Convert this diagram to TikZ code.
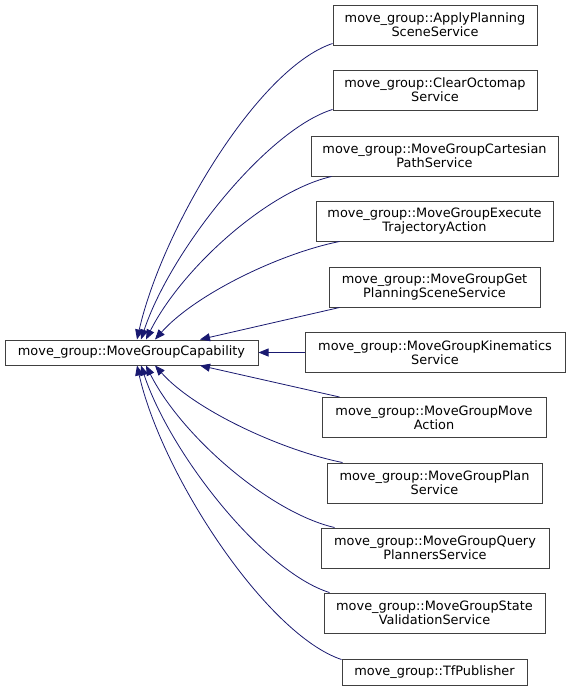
\documentclass[tikz,border=0pt]{standalone}
\usepackage{fontspec}
\setmainfont{DejaVu Sans}
\usepackage{xcolor}
\usetikzlibrary{arrows.meta,calc}
\definecolor{edgeblue}{RGB}{25,25,112}
\definecolor{boxgray}{RGB}{64,64,64}

\begin{document}
\begin{tikzpicture}[x=1pt,y=-1pt,
  cls/.style={draw=boxgray,fill=white,line width=1pt,align=center,inner sep=0pt,minimum height=40pt,font=\fontsize{12.9}{14}\selectfont},
  inh/.style={draw=edgeblue,line width=.8pt,-{Triangle[length=10pt,width=8pt]}}]
\useasboundingbox (0,0) rectangle (569,691);
% base class
\node[cls,minimum width=253pt,minimum height=25pt] (base) at (131.5,352.5) {move\_group::MoveGroupCapability};
% derived classes
\node[cls,minimum width=204pt] (apply) at (435,25) {move\_group::ApplyPlanning\\SceneService};
\node[cls,minimum width=204pt] (octo) at (435,90) {move\_group::ClearOctomap\\Service};
\node[cls,minimum width=247pt] (cart) at (434.5,156) {move\_group::MoveGroupCartesian\\PathService};
\node[cls,minimum width=237pt] (exec) at (434.5,221) {move\_group::MoveGroupExecute\\TrajectoryAction};
\node[cls,minimum width=211pt] (getps) at (434.5,287) {move\_group::MoveGroupGet\\PlanningSceneService};
\node[cls,minimum width=260pt] (kin) at (435,352.5) {move\_group::MoveGroupKinematics\\Service};
\node[cls,minimum width=224pt] (move) at (434,417.5) {move\_group::MoveGroupMove\\Action};
\node[cls,minimum width=215pt] (plan) at (434.5,483) {move\_group::MoveGroupPlan\\Service};
\node[cls,minimum width=228pt] (query) at (435,548) {move\_group::MoveGroupQuery\\PlannersService};
\node[cls,minimum width=221pt] (valid) at (434.5,613) {move\_group::MoveGroupState\\ValidationService};
\node[cls,minimum width=185pt,minimum height=26pt] (tf) at (434.5,672) {move\_group::TfPublisher};
% inheritance edges
\draw[inh] ([yshift=2pt]apply.south west) .. controls +(-75,25) and +(25,-110) .. ([xshift=5.5pt]base.north);
\draw[inh] ([yshift=1pt]octo.south west) .. controls +(-65,20) and +(30,-90) .. ([xshift=9.5pt]base.north);
\draw[inh] ([xshift=21pt]cart.south west) .. controls +(-65,15) and +(35,-70) .. ([xshift=14.5pt]base.north);
\draw[inh] ([xshift=24pt]exec.south west) .. controls +(-60,12) and +(40,-45) .. ([xshift=23.5pt]base.north);
\draw[inh] ([xshift=11pt]getps.south west) -- ([xshift=68.5pt]base.north);
\draw[inh] (kin.west) -- (base.east);
\draw[inh] ([xshift=18pt]move.north west) -- ([xshift=68.5pt]base.south);
\draw[inh] ([xshift=16pt]plan.north west) .. controls +(-60,-12) and +(40,45) .. ([xshift=23.5pt]base.south);
\draw[inh] ([xshift=14pt]query.north west) .. controls +(-65,-15) and +(35,70) .. ([xshift=14.5pt]base.south);
\draw[inh] ([xshift=6pt]valid.north west) .. controls +(-65,-20) and +(30,90) .. ([xshift=9.5pt]base.south);
\draw[inh] ([yshift=-1pt]tf.north west) .. controls +(-75,-25) and +(25,110) .. ([xshift=5.5pt]base.south);
\end{tikzpicture}
\end{document}
